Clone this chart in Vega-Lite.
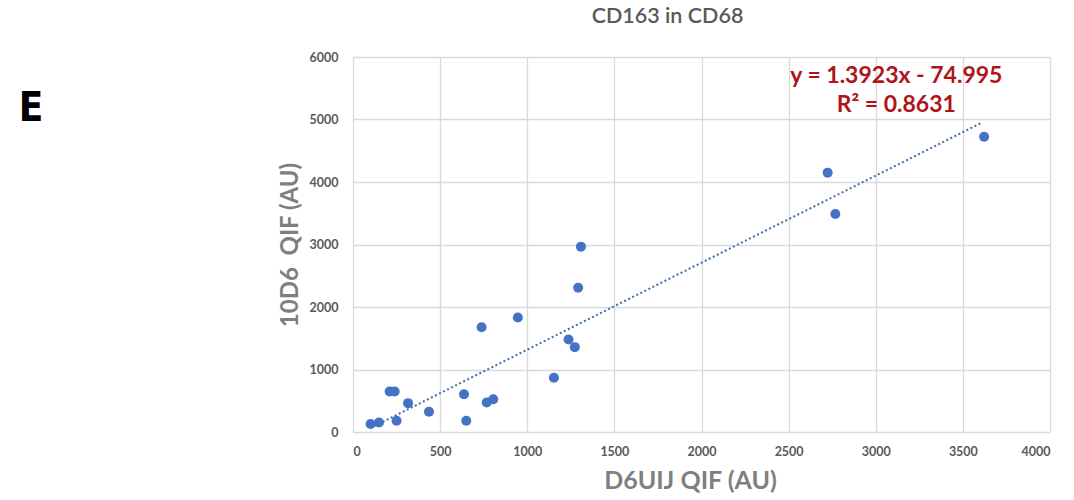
{
  "$schema": "https://vega.github.io/schema/vega-lite/v6.json",
  "autosize": "none",
  "width": 697,
  "height": 375,
  "padding": {"left": 353, "top": 57, "right": 24, "bottom": 68},
  "background": "white",
  "config": {
    "view": {"stroke": null},
    "font": "Lato"
  },
  "title": {
    "text": "CD163 in CD68",
    "font": "Lato",
    "fontSize": 21.5,
    "fontWeight": 600,
    "color": "#595959",
    "anchor": "middle",
    "dx": -34,
    "offset": 24
  },
  "datasets": {
    "points": [
      {"x": 101, "y": 127},
      {"x": 149, "y": 153},
      {"x": 210, "y": 647},
      {"x": 239, "y": 647},
      {"x": 250, "y": 180},
      {"x": 316, "y": 462},
      {"x": 436, "y": 323},
      {"x": 637, "y": 605},
      {"x": 650, "y": 180},
      {"x": 767, "y": 472},
      {"x": 805, "y": 525},
      {"x": 738, "y": 1677},
      {"x": 946, "y": 1831},
      {"x": 1153, "y": 869},
      {"x": 1237, "y": 1481},
      {"x": 1273, "y": 1358},
      {"x": 1292, "y": 2309},
      {"x": 1308, "y": 2966},
      {"x": 2724, "y": 4150},
      {"x": 2768, "y": 3487},
      {"x": 3622, "y": 4723}
    ],
    "trend": [
      {"x": 101, "y": 65.6},
      {"x": 3605, "y": 4944}
    ],
    "labels": [
      {"x": 3118, "y": 5690, "text": "y = 1.3923x - 74.995"},
      {"x": 3118, "y": 5228, "text": "R² = 0.8631"}
    ],
    "panel": [
      {"x": -1848, "y": 5164, "text": "E"}
    ]
  },
  "layer": [
    {
      "data": {"name": "trend"},
      "mark": {"type": "line", "color": "#3E6DB5", "strokeWidth": 2, "strokeDash": [2, 2.5]},
      "encoding": {
        "x": {
          "field": "x", "type": "quantitative",
          "scale": {"domain": [0, 4000], "nice": false},
          "axis": {
            "title": "D6UIJ QIF (AU)",
            "values": [0, 500, 1000, 1500, 2000, 2500, 3000, 3500, 4000],
            "format": "d",
            "grid": true, "gridColor": "#d9d9d9", "gridWidth": 1.3,
            "domain": false, "ticks": false,
            "labelFont": "Lato", "labelFontSize": 12.5, "labelFontWeight": "bold", "labelColor": "#595959",
            "labelPadding": 13,
            "titleFont": "Lato", "titleFontSize": 25, "titleFontWeight": "bold", "titleColor": "#7f7f7f",
            "titlePadding": 11, "titleX": 337
          }
        },
        "y": {
          "field": "y", "type": "quantitative",
          "scale": {"domain": [0, 6000], "nice": false},
          "axis": {
            "title": "10D6\u00a0 QIF (AU)",
            "values": [0, 1000, 2000, 3000, 4000, 5000, 6000],
            "format": "d",
            "grid": true, "gridColor": "#d9d9d9", "gridWidth": 1.3,
            "domain": false, "ticks": false,
            "labelFont": "Lato", "labelFontSize": 12.5, "labelFontWeight": "bold", "labelColor": "#595959",
            "labelPadding": 15,
            "titleFont": "Lato", "titleFontSize": 24, "titleFontWeight": "bold", "titleColor": "#7f7f7f",
            "titlePadding": 7
          }
        }
      }
    },
    {
      "data": {"name": "points"},
      "mark": {"type": "point", "filled": true, "size": 100, "color": "#4472C4", "opacity": 1},
      "encoding": {
        "x": {"field": "x", "type": "quantitative"},
        "y": {"field": "y", "type": "quantitative"}
      }
    },
    {
      "data": {"name": "labels"},
      "mark": {"type": "text", "font": "Lato", "fontSize": 23, "fontWeight": "bold", "color": "#B0141B", "align": "center", "baseline": "middle"},
      "encoding": {
        "x": {"field": "x", "type": "quantitative"},
        "y": {"field": "y", "type": "quantitative"},
        "text": {"field": "text"}
      }
    },
    {
      "data": {"name": "panel"},
      "mark": {"type": "text", "font": "Liberation Sans Narrow, DejaVu Sans Condensed", "fontSize": 40, "fontWeight": "bold", "color": "#000000", "align": "center", "baseline": "middle"},
      "encoding": {
        "x": {"field": "x", "type": "quantitative"},
        "y": {"field": "y", "type": "quantitative"},
        "text": {"field": "text"}
      }
    }
  ]
}
